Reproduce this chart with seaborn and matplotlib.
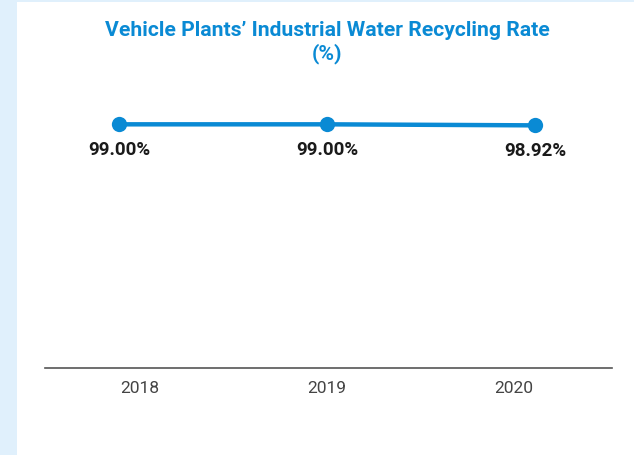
import matplotlib
matplotlib.use("Agg")
import matplotlib.pyplot as plt
from matplotlib.patches import Rectangle
import seaborn as sns
import pandas as pd

years = ["2018", "2019", "2020"]
rates = [99.00, 99.00, 98.92]
labels = ["99.00%", "99.00%", "98.92%"]

sns.set_style("white")
plt.rcParams["font.family"] = ["Roboto", "DejaVu Sans"]

W, H = 634, 456
fig = plt.figure(figsize=(W / 100, H / 100), dpi=100)
fig.patch.set_facecolor("#e0f0fc")
fig.patches.append(Rectangle((17 / W, 0), 1 - 17 / W, (H - 3) / H,
                             transform=fig.transFigure, facecolor="white",
                             edgecolor="none", zorder=-5))

left, right = 45, 612
top, bottom = 112.5, 369
ax = fig.add_axes([left / W, (H - bottom) / H, (right - left) / W, (bottom - top) / H])
ax.set_facecolor("none")
ax.set_zorder(2)

df = pd.DataFrame({"x": range(len(years)), "rate": rates})
blue = "#0a8ad4"
sns.lineplot(data=df, x="x", y="rate", ax=ax, color=blue, linewidth=3.2,
             marker="o", markersize=11, markeredgewidth=0, markerfacecolor=blue,
             clip_on=False)

for i, (v, t) in enumerate(zip(rates, labels)):
    ax.annotate(t, (i, v), xytext=(0, -18), textcoords="offset points",
                ha="center", va="center", fontsize=13.5, fontweight="bold",
                color="#1a1a1a")

ax.set_xlim(-74 / 208, 2 + 77 / 208)
ax.set_ylim(80, 100)
# year labels sit on a slightly tighter spacing than the points
n = len(years)
centre = (n - 1) / 2
ax.set_xticks([centre + (i - centre) * 0.9 for i in range(n)])
ax.set_xticklabels(years, fontsize=12.5, color="#444444")
ax.tick_params(axis="x", length=0, pad=9)
ax.set_yticks([])
ax.set_xlabel("")
ax.set_ylabel("")
for s in ["top", "right", "left"]:
    ax.spines[s].set_visible(False)
ax.spines["bottom"].set_color("#555555")
ax.spines["bottom"].set_linewidth(1.2)

fig.text(327 / W, 1 - 30 / H, "Vehicle Plants\u2019 Industrial Water Recycling Rate",
         ha="center", va="center", fontsize=15.2, fontweight="bold", color=blue)
fig.text(327 / W, 1 - 54 / H, "(%)", ha="center", va="center",
         fontsize=15.2, fontweight="bold", color=blue)

fig.savefig("out.png", dpi=100)
